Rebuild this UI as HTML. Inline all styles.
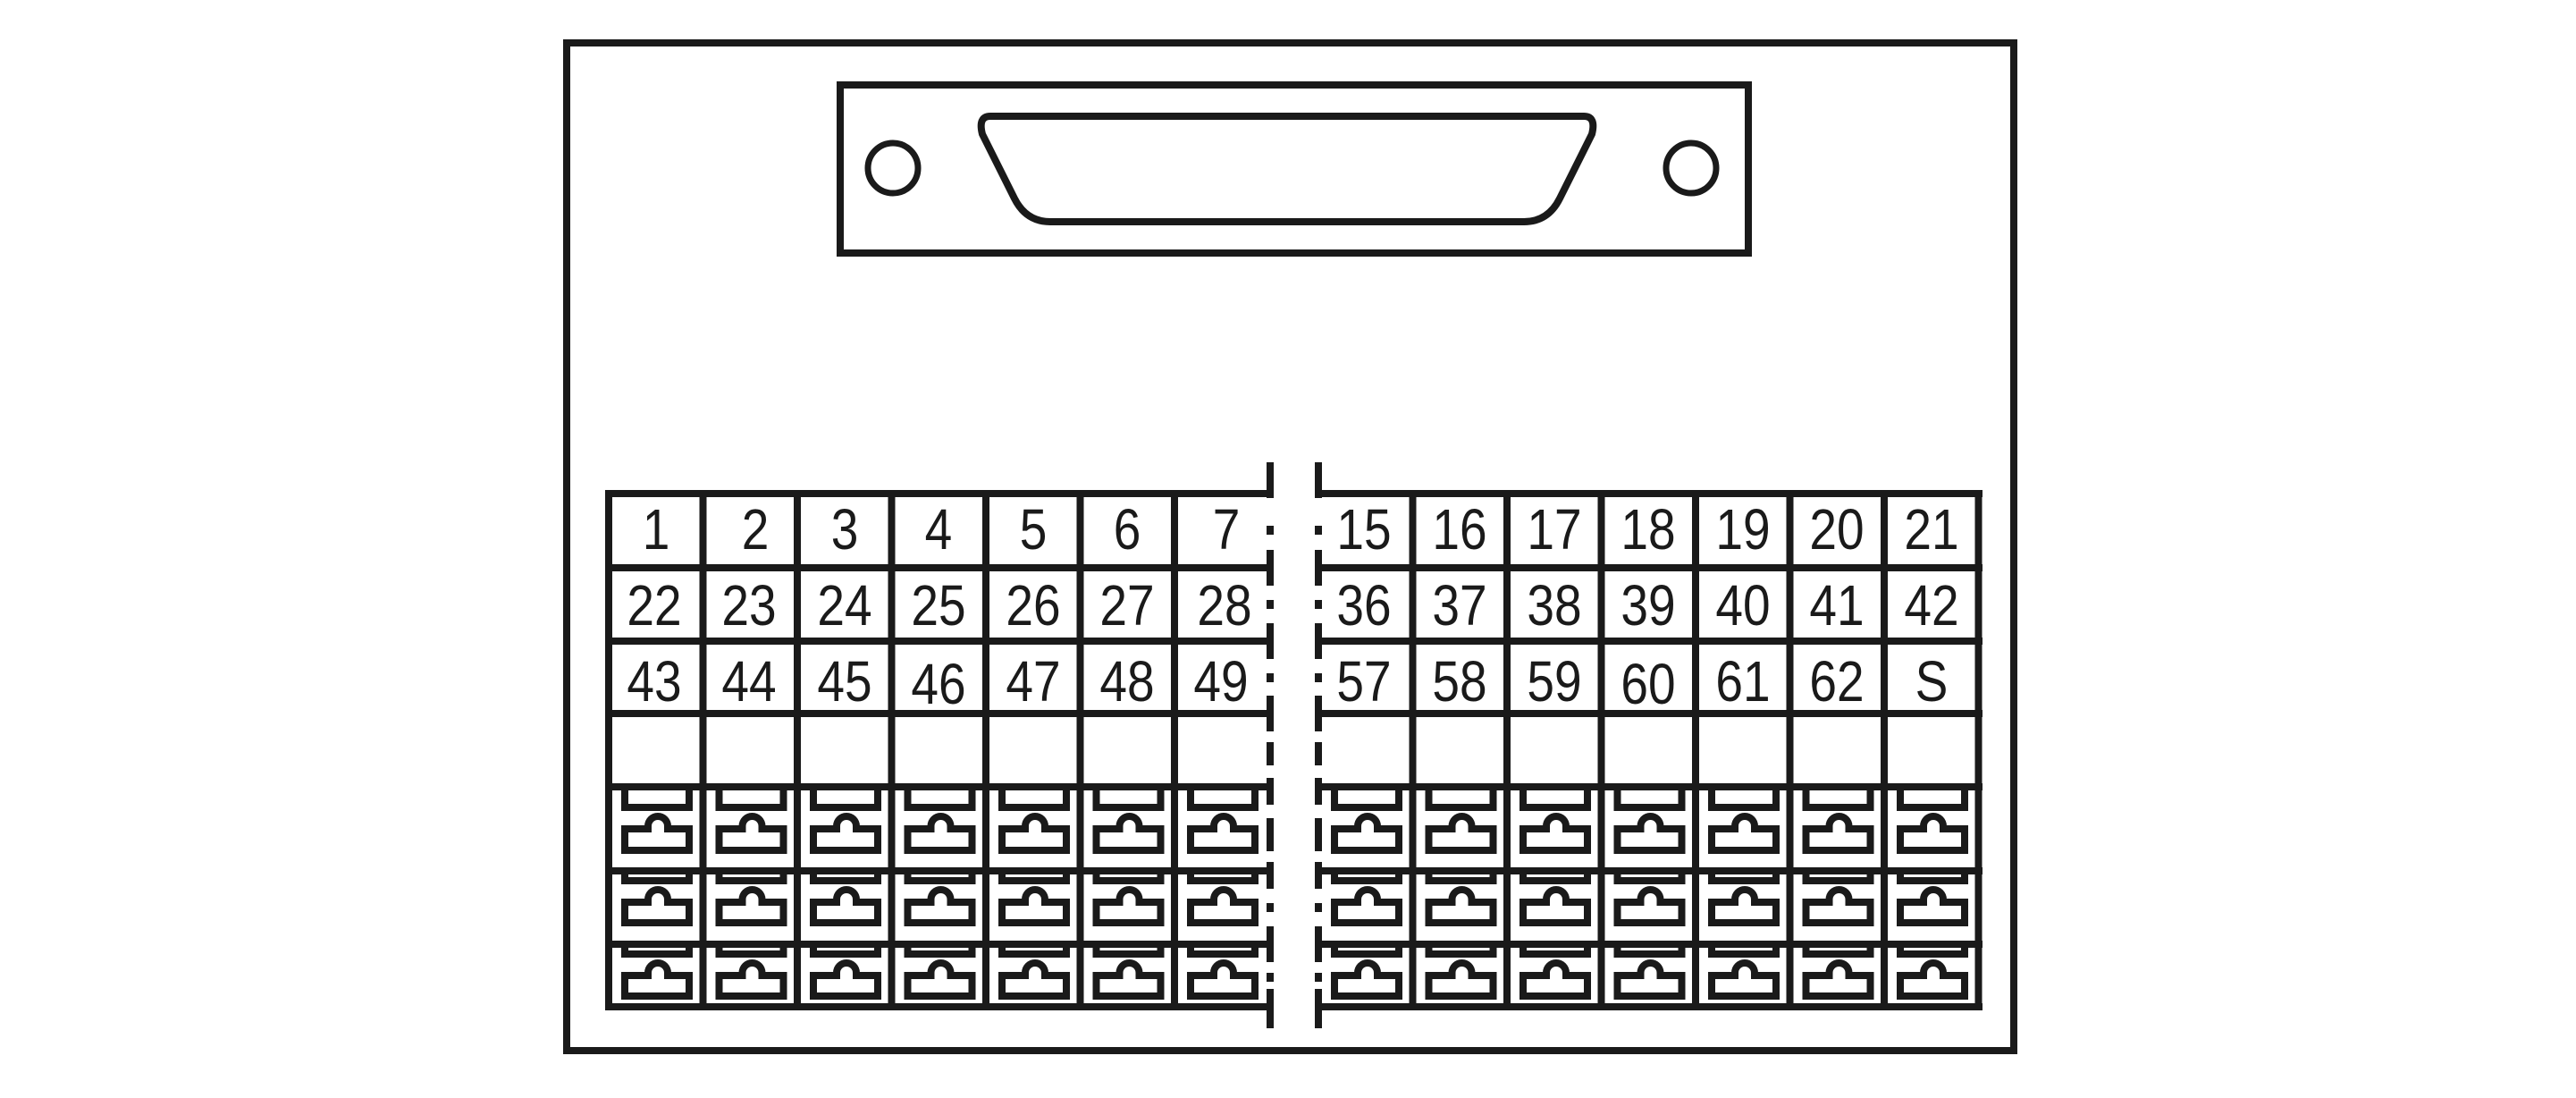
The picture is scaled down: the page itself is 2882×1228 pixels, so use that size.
<!DOCTYPE html>
<html><head><meta charset="utf-8"><style>
html,body{margin:0;padding:0;background:#fff;}
svg{display:block;}
text{font-family:"Liberation Sans",sans-serif;font-size:64px;fill:#1a1a1a;text-anchor:middle;transform-box:fill-box;transform-origin:center;transform:scaleX(0.86);}
</style></head><body>
<svg width="2882" height="1228" viewBox="0 0 2882 1228" xmlns="http://www.w3.org/2000/svg">
<defs>
<g id="ia" fill="none" stroke="#1a1a1a" stroke-width="8">
<path d="M18,4 V23 H90 V4"/>
<path d="M18,47 H44 V44 A11,11 0 0 1 66,44 V47 H90 V71 H18 Z"/>
</g>
<g id="ib" fill="none" stroke="#1a1a1a" stroke-width="8">
<path d="M18,4 V11 H90 V4"/>
<path d="M18,35 H44 V32 A11,11 0 0 1 66,32 V35 H90 V58 H18 Z"/>
</g>
</defs>
<g fill="none" stroke="#1a1a1a" stroke-width="8">
<rect x="634" y="48" width="1619" height="1127"/>
<rect x="940" y="95" width="1016" height="188"/>
<path d="M1108,130 H1772 Q1786,130 1781,150 L1745,222 Q1732,248 1705,248 H1175 Q1148,248 1135,222 L1099,150 Q1094,130 1108,130 Z"/>
<circle cx="999" cy="188" r="28" stroke-width="7"/>
<circle cx="1892" cy="188" r="28" stroke-width="7"/>
<path d="M677,552 H1423 M677,635 H1423 M677,717 H1423 M677,798 H1423 M677,880 H1423 M677,974 H1423 M677,1056 H1423 M677,1126 H1423"/>
<path d="M1473,552 H2218 M1473,635 H2218 M1473,717 H2218 M1473,798 H2218 M1473,880 H2218 M1473,974 H2218 M1473,1056 H2218 M1473,1126 H2218"/>
<path d="M681,548 V1130 M786.5,552 V1126 M892,552 V1126 M997.5,552 V1126 M1103,552 V1126 M1208.5,552 V1126 M1314,552 V1126"/>
<path d="M1580.5,552 V1126 M1686,552 V1126 M1791.5,552 V1126 M1897,552 V1126 M2002.5,552 V1126 M2108,552 V1126 M2213.5,548 V1130"/>
<path d="M1421,517 V557 M1421,588 V598 M1421,615 V655 M1421,671 V681 M1421,697 V737 M1421,753 V763 M1421,778 V818 M1421,830 V856 M1421,870 V900 M1421,915 V952 M1421,964 V994 M1421,1010 V1020 M1421,1036 V1076 M1421,1088 V1098 M1421,1106 V1150"/>
<path d="M1475,517 V557 M1475,588 V598 M1475,615 V655 M1475,671 V681 M1475,697 V737 M1475,753 V763 M1475,778 V818 M1475,830 V856 M1475,870 V900 M1475,915 V952 M1475,964 V994 M1475,1010 V1020 M1475,1036 V1076 M1475,1088 V1098 M1475,1106 V1150"/>
</g>
<g>
<use href="#ia" x="681" y="880"/><use href="#ia" x="786.5" y="880"/><use href="#ia" x="892" y="880"/><use href="#ia" x="997.5" y="880"/><use href="#ia" x="1103" y="880"/><use href="#ia" x="1208.5" y="880"/><use href="#ia" x="1314" y="880"/>
<use href="#ia" x="1475" y="880"/><use href="#ia" x="1580.5" y="880"/><use href="#ia" x="1686" y="880"/><use href="#ia" x="1791.5" y="880"/><use href="#ia" x="1897" y="880"/><use href="#ia" x="2002.5" y="880"/><use href="#ia" x="2108" y="880"/>
<use href="#ib" x="681" y="974"/><use href="#ib" x="786.5" y="974"/><use href="#ib" x="892" y="974"/><use href="#ib" x="997.5" y="974"/><use href="#ib" x="1103" y="974"/><use href="#ib" x="1208.5" y="974"/><use href="#ib" x="1314" y="974"/>
<use href="#ib" x="1475" y="974"/><use href="#ib" x="1580.5" y="974"/><use href="#ib" x="1686" y="974"/><use href="#ib" x="1791.5" y="974"/><use href="#ib" x="1897" y="974"/><use href="#ib" x="2002.5" y="974"/><use href="#ib" x="2108" y="974"/>
<use href="#ib" x="681" y="1056"/><use href="#ib" x="786.5" y="1056"/><use href="#ib" x="892" y="1056"/><use href="#ib" x="997.5" y="1056"/><use href="#ib" x="1103" y="1056"/><use href="#ib" x="1208.5" y="1056"/><use href="#ib" x="1314" y="1056"/>
<use href="#ib" x="1475" y="1056"/><use href="#ib" x="1580.5" y="1056"/><use href="#ib" x="1686" y="1056"/><use href="#ib" x="1791.5" y="1056"/><use href="#ib" x="1897" y="1056"/><use href="#ib" x="2002.5" y="1056"/><use href="#ib" x="2108" y="1056"/>
</g>
<g>
<text x="734" y="614">1</text><text x="845" y="614">2</text><text x="945" y="614">3</text><text x="1050" y="614">4</text><text x="1156" y="614">5</text><text x="1261" y="614">6</text><text x="1372" y="614">7</text>
<text x="1526" y="614">15</text><text x="1633" y="614">16</text><text x="1739" y="614">17</text><text x="1844" y="614">18</text><text x="1950" y="614">19</text><text x="2055" y="614">20</text><text x="2161" y="614">21</text>
<text x="732" y="699">22</text><text x="838" y="699">23</text><text x="945" y="699">24</text><text x="1050" y="699">25</text><text x="1156" y="699">26</text><text x="1261" y="699">27</text><text x="1370" y="699">28</text>
<text x="1526" y="699">36</text><text x="1633" y="699">37</text><text x="1739" y="699">38</text><text x="1844" y="699">39</text><text x="1950" y="699">40</text><text x="2055" y="699">41</text><text x="2161" y="699">42</text>
<text x="732" y="784">43</text><text x="838" y="784">44</text><text x="945" y="784">45</text><text x="1050" y="787">46</text><text x="1156" y="784">47</text><text x="1261" y="784">48</text><text x="1366" y="784">49</text>
<text x="1526" y="784">57</text><text x="1633" y="784">58</text><text x="1739" y="784">59</text><text x="1844" y="787">60</text><text x="1950" y="784">61</text><text x="2055" y="784">62</text><text x="2161" y="784">S</text>
</g>
</svg>
</body></html>
